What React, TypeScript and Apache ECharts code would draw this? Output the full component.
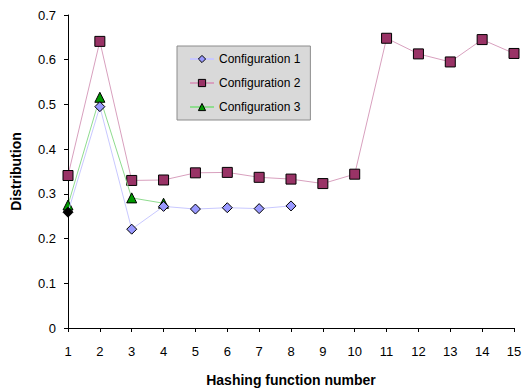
import React, { useEffect, useRef } from "react";
import * as echarts from "echarts";

const hashNumbers = [1, 2, 3, 4, 5, 6, 7, 8, 9, 10, 11, 12, 13, 14, 15];
const config1 = [0.259, 0.495, 0.221, 0.272, 0.266, 0.269, 0.267, 0.273];
const config2 = [0.341, 0.641, 0.33, 0.331, 0.347, 0.348, 0.337, 0.333, 0.323, 0.344, 0.648, 0.613, 0.595, 0.645, 0.614];
const config3 = [0.275, 0.516, 0.291, 0.279];
const seriesNames = ["Configuration 1", "Configuration 2", "Configuration 3"];
const markerColors = ["#9999ff", "#993366", "#009900"];

const FONT = "'Liberation Sans', Arial, sans-serif";

export default function App() {
  const ref = useRef<HTMLDivElement>(null);
  useEffect(() => {
    if (!ref.current) return;
    const chart = echarts.init(ref.current, null, { renderer: "svg" });
    const toPairs = (vals: number[]) => vals.map((v, i) => [hashNumbers[i], v]);
    chart.setOption({
      animation: false,
      textStyle: { fontFamily: FONT },
      grid: { left: 68, right: 12, top: 15, bottom: 64, containLabel: false, outerBoundsMode: "none" },
      legend: {
        orient: "vertical",
        left: 177,
        top: 46,
        backgroundColor: "#d9d9d9",
        borderColor: "#8c8c8c",
        borderWidth: 1,
        borderRadius: 0,
        padding: [7, 10, 7, 12],
        itemGap: 12,
        itemWidth: 24,
        itemHeight: 9,
        textStyle: { fontFamily: FONT, fontSize: 12, color: "#000" },
        data: seriesNames.map((n, i) => ({
          name: n,
          itemStyle: { color: markerColors[i], borderColor: "#000", borderWidth: 1 },
        })),
      },
      xAxis: {
        type: "value",
        min: 1,
        max: 15,
        interval: 1,
        name: "Hashing function number",
        nameLocation: "middle",
        nameGap: 45,
        nameTextStyle: { fontFamily: FONT, fontSize: 14, fontWeight: "bold", color: "#000" },
        axisLine: { lineStyle: { color: "#000", width: 1 } },
        axisTick: { show: true, length: 4, lineStyle: { color: "#000" } },
        axisLabel: { fontFamily: FONT, fontSize: 13, color: "#000", margin: 17 },
        splitLine: { show: false },
      },
      yAxis: {
        type: "value",
        min: 0,
        max: 0.7,
        interval: 0.1,
        name: "Distribution",
        nameLocation: "middle",
        nameGap: 45,
        nameTextStyle: { fontFamily: FONT, fontSize: 14, fontWeight: "bold", color: "#000" },
        axisLine: { show: true, lineStyle: { color: "#000", width: 1 } },
        axisTick: { show: true, length: 4, lineStyle: { color: "#000" } },
        axisLabel: { fontFamily: FONT, fontSize: 13, color: "#000", margin: 12 },
        splitLine: { show: false },
      },
      series: [
        {
          name: seriesNames[0],
          type: "line",
          data: toPairs(config1).map((p, i) =>
            i === 0 ? { value: p, itemStyle: { color: "#000", borderColor: "#000" } } : p
          ),
          symbol: "diamond",
          symbolSize: 10,
          lineStyle: { color: "#c8c8ff", width: 1 },
          itemStyle: { color: markerColors[0], borderColor: "#000", borderWidth: 1 },
          z: 4,
        },
        {
          name: seriesNames[1],
          type: "line",
          data: toPairs(config2),
          symbol: "rect",
          symbolSize: 10,
          lineStyle: { color: "#d8a0be", width: 1 },
          itemStyle: { color: markerColors[1], borderColor: "#000", borderWidth: 1 },
          z: 2,
        },
        {
          name: seriesNames[2],
          type: "line",
          data: toPairs(config3),
          symbol: "triangle",
          symbolSize: 10,
          lineStyle: { color: "#8fdc8f", width: 1 },
          itemStyle: { color: markerColors[2], borderColor: "#000", borderWidth: 1 },
          z: 3,
        },
      ],
    });
    return () => chart.dispose();
  }, []);
  return (
    <div
      ref={ref}
      style={{ position: "absolute", left: 0, top: 0, width: 526, height: 392 }}
    />
  );
}
